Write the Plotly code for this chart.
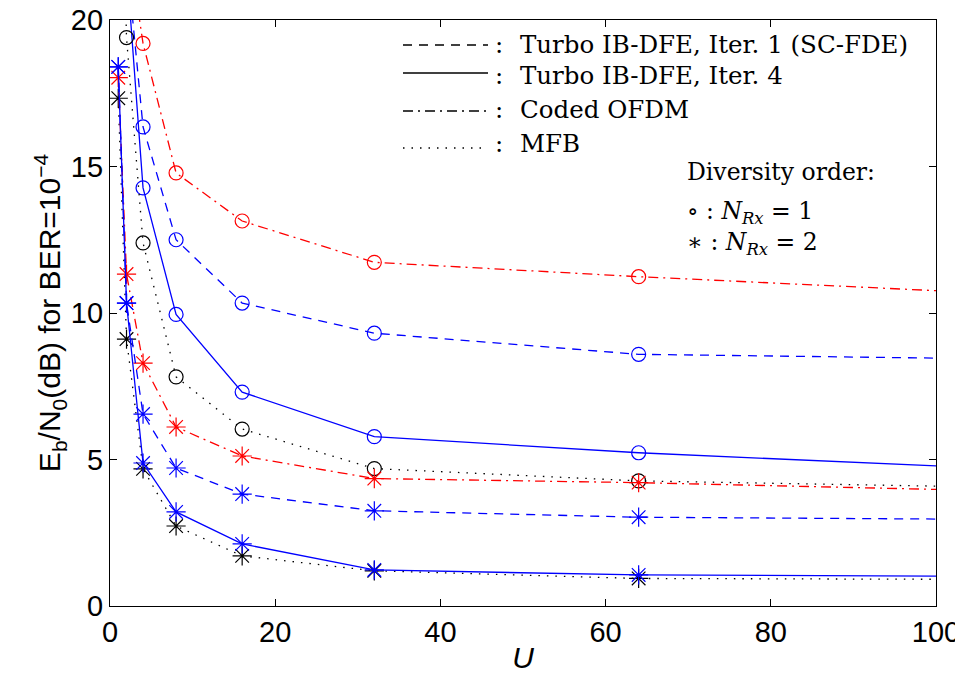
import plotly.graph_objects as go

# ---------------- data ----------------
U = [1, 2, 4, 8, 16, 32, 64, 128]

ofdm_rx1 = [30.0, 23.0, 19.2, 14.78, 13.14, 11.73, 11.24, 10.39]
sc_it1_rx1 = [30.0, 22.2, 16.35, 12.5, 10.34, 9.31, 8.59, 8.36]
sc_it4_rx1 = [30.0, 21.9, 14.27, 9.95, 7.3, 5.78, 5.23, 4.43]
mfb_rx1 = [30.0, 19.4, 12.39, 7.82, 6.04, 4.69, 4.27, 3.95]

ofdm_rx2 = [18.03, 11.33, 8.29, 6.11, 5.12, 4.35, 4.21, 3.80]
sc_it1_rx2 = [18.4, 10.34, 6.55, 4.71, 3.82, 3.25, 3.03, 2.92]
sc_it4_rx2 = [18.4, 10.34, 4.88, 3.21, 2.12, 1.23, 1.06, 0.99]
mfb_rx2 = [17.33, 9.11, 4.68, 2.73, 1.71, 1.20, 0.94, 0.89]

x_ticks = [0, 20, 40, 60, 80, 100]
y_ticks = [0, 5, 10, 15, 20]

legend_labels = ["Turbo IB-DFE, Iter. 1 (SC-FDE)", "Turbo IB-DFE, Iter. 4",
                 "Coded OFDM", "MFB"]

# ---------------- styles ----------------
RED = "#ff0000"
BLUE = "#0000ff"
BLACK = "#000000"
DASH = "9px,7px"
DASHDOT = "10px,5px,2px,5px"
DOT = "1.5px,7px"
SOLID = "solid"

series = [
    (ofdm_rx1, RED, DASHDOT, "circle-open"),
    (sc_it1_rx1, BLUE, DASH, "circle-open"),
    (sc_it4_rx1, BLUE, SOLID, "circle-open"),
    (mfb_rx1, BLACK, DOT, "circle-open"),
    (mfb_rx2, BLACK, DOT, "asterisk-open"),
    (ofdm_rx2, RED, DASHDOT, "asterisk-open"),
    (sc_it1_rx2, BLUE, DASH, "asterisk-open"),
    (sc_it4_rx2, BLUE, SOLID, "asterisk-open"),
]

fig = go.Figure()
for ys, col, dash, sym in series:
    msize = 14 if sym == "circle-open" else 16
    fig.add_trace(go.Scatter(
        x=U, y=ys, mode="lines+markers",
        line=dict(color=col, width=1.3, dash=dash),
        marker=dict(symbol=sym, size=msize, color=col,
                    line=dict(color=col, width=1.2)),
        showlegend=False, cliponaxis=True,
    ))

# figure size and plot-area geometry (page body adds an 8px offset)
FW, FH = 963, 673
OFF = 8
L, R, T, B = 110 - OFF, 936 - OFF, 20 - OFF, 606 - OFF
W, H = R - L, B - T


def px(x):
    return (x - OFF - L) / W


def py(y):
    return (B - (y - OFF)) / H


SERIF = "DejaVu Serif"
shapes = []
annotations = []
rows = [(45, 45, DASH), (73, 76, SOLID), (111, 109, DASHDOT), (148, 143, DOT)]
for (ly, ty, dash), lab in zip(rows, legend_labels):
    shapes.append(dict(type="line", xref="paper", yref="paper",
                       x0=px(403), x1=px(488), y0=py(ly), y1=py(ly),
                       line=dict(color="black", width=1.3, dash=dash)))
    annotations.append(dict(xref="paper", yref="paper", x=px(499), y=py(ty),
                            text=":", showarrow=False, xanchor="center",
                            yanchor="middle",
                            font=dict(family=SERIF, size=24.5, color="black")))
    annotations.append(dict(xref="paper", yref="paper", x=px(518), y=py(ty),
                            text=lab, showarrow=False, xanchor="left",
                            yanchor="middle",
                            font=dict(family=SERIF, size=24.5, color="black")))

div_rows = [
    (172, "Diversity order:"),
    (212, "∘ : <i>N</i><sub><i>Rx</i></sub> = 1"),
    (243, "∗ : <i>N</i><sub><i>Rx</i></sub> = 2"),
]
for y, txt in div_rows:
    annotations.append(dict(xref="paper", yref="paper", x=px(685), y=py(y),
                            text=txt, showarrow=False, xanchor="left",
                            yanchor="middle",
                            font=dict(family=SERIF, size=23.5, color="black")))

TICK_FONT = dict(family="Liberation Sans, Arial, sans-serif", size=29, color="black")
TITLE_FONT = dict(family="Liberation Sans, Arial, sans-serif", size=30, color="black")

fig.update_layout(
    width=FW, height=FH,
    margin=dict(l=L, r=FW - R, t=T, b=FH - B),
    paper_bgcolor="white", plot_bgcolor="white",
    shapes=shapes, annotations=annotations,
    xaxis=dict(range=[0, 100], tickvals=x_ticks, ticks="inside", ticklen=7,
               tickwidth=1, tickcolor="black", mirror="ticks", showline=True,
               linecolor="black", linewidth=1.3, showgrid=False, zeroline=False,
               tickfont=TICK_FONT, automargin=False, ticklabeloverflow="allow",
               title=dict(text="<i>U</i>", font=TITLE_FONT, standoff=0)),
    yaxis=dict(range=[0, 20], tickvals=y_ticks, ticks="inside", ticklen=7,
               tickwidth=1, tickcolor="black", mirror="ticks", showline=True,
               linecolor="black", linewidth=1.3, showgrid=False, zeroline=False,
               tickfont=TICK_FONT, automargin=False, ticksuffix="\u00a0\u00a0",
               ticklabeloverflow="allow",
               title=dict(text="E<sub>b</sub>/N<sub>0</sub>(dB) for BER=10<sup>−4</sup>",
                          font=TITLE_FONT, standoff=0)),
)

fig.write_html("out.html")
